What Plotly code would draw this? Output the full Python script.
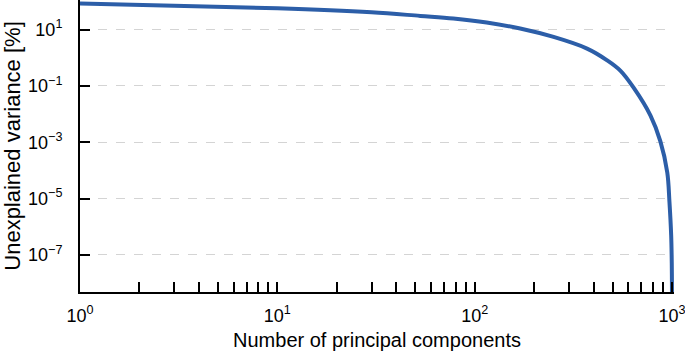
import plotly.graph_objects as go

# Number of principal components (x) and unexplained variance in % (y)
components = [1, 3, 10, 30, 53, 78, 115, 170, 251, 371, 469, 547, 640, 777, 873, 946, 970, 990, 997, 1000]
unexplained = [84, 69.5, 57, 41, 30.4, 24.6, 17.7, 10.9, 5.46, 2.11, 0.81, 0.35, 0.085, 0.009, 0.00108,
               8.5e-5, 8e-6, 5e-7, 5e-8, 1e-9]

x_major = [1, 10, 100, 1000]
x_major_text = ["10<sup>0</sup>", "10<sup>1</sup>", "10<sup>2</sup>", "10<sup>3</sup>"]
x_minor = [m * 10 ** k for k in range(3) for m in range(2, 10)]

y_major = [1e-7, 1e-5, 1e-3, 1e-1, 1e1]
y_major_text = ["10<sup>\u22127</sup>", "10<sup>\u22125</sup>", "10<sup>\u22123</sup>",
                "10<sup>\u22121</sup>", "10<sup>1</sup>"]

FONT = "Arial, Liberation Sans, sans-serif"

fig = go.Figure()
fig.add_trace(go.Scatter(
    x=components, y=unexplained, mode="lines",
    line=dict(color="#2c5ea8", width=4, shape="spline", smoothing=1.0),
    showlegend=False, hoverinfo="skip",
))

fig.update_layout(
    width=685, height=359,
    margin=dict(l=80, r=11.4, t=0, b=67.3, autoexpand=False),
    paper_bgcolor="white", plot_bgcolor="white",
    font=dict(family=FONT, size=18, color="black"),
)

fig.update_xaxes(
    type="log", range=[0, 3.01],
    showline=True, linecolor="black", linewidth=2,
    ticks="inside", ticklen=10, tickwidth=2, tickcolor="black",
    tickmode="array", tickvals=x_major, ticktext=x_major_text,
    ticklabelstandoff=6, ticklabeloverflow="allow",
    minor=dict(tickmode="array", tickvals=x_minor, ticks="inside", ticklen=10,
               tickwidth=2, tickcolor="black", showgrid=False),
    showgrid=False, zeroline=False,
    title=dict(text="Number of principal components", font=dict(size=20), standoff=8),
)

fig.update_yaxes(
    type="log", range=[-8.314, 2.048],
    showline=True, linecolor="black", linewidth=2,
    ticks="inside", ticklen=10, tickwidth=2, tickcolor="black",
    tickmode="array", tickvals=y_major, ticktext=y_major_text,
    ticklabelstandoff=12,
    showgrid=True, gridcolor="#d4d4d4", gridwidth=1, griddash="dash",
    zeroline=False,
    title=dict(text="Unexplained variance [%]", font=dict(size=22), standoff=3),
)

fig.write_html("out.html", config={"displayModeBar": False},
               post_script="document.body.style.margin='0';")
